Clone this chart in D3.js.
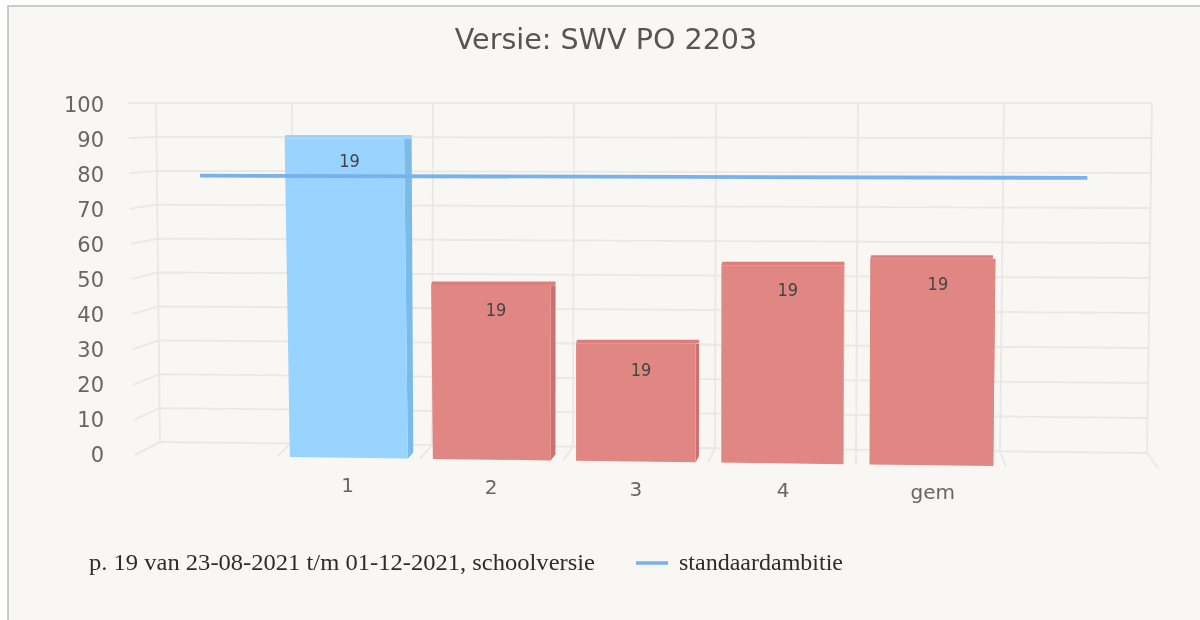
<!DOCTYPE html>
<html>
<head>
<meta charset="utf-8">
<script src="https://cdn.jsdelivr.net/npm/d3@7"></script>
<style>
  html, body { margin: 0; padding: 0; background: #fff; overflow: hidden; }
  svg { display: block; filter: blur(0.45px); }
</style>
</head>
<body>
<div id="container"></div>
<script>
/* DATA */
const categories = ["1", "2", "3", "4", "gem"];
const barValues = [90, 49, 33, 55, 57];
const barCounts = [19, 19, 19, 19, 19];
const barColors = ["#99d3ff", "#e08683", "#e08683", "#e08683", "#e08683"];
const topColors = ["#99d3ff", "#dc7e7b", "#dc7e7b", "#dc7e7b", "#dc7e7b"];
const sideColors = ["#7bbbea", "#cd706e", "#cd706e", "#e08683", "#e08683"];
const yTicks = [0, 10, 20, 30, 40, 50, 60, 70, 80, 90, 100];
const lineValues = [79, 79];
const lineSlots = [0.41, 6.54]; // where the line starts and ends, in category slots
const titleText = "Versie: SWV PO 2203";
const legendBars = "p. 19 van 23-08-2021 t/m 01-12-2021, schoolversie";
const legendLine = "standaardambitie";

/* CONSTANTS */
const width = 1200, height = 620;
const slots = d3.range(8); // one empty slot each side of the five categories
const topY = 103;

const svg = d3.select("#container").append("svg")
  .attr("width", width)
  .attr("height", height);

/* SCALES - the floor and the top of the box, back (z=0) and front (z=1) */
const backBottomX = d3.scaleLinear().domain(slots).range([160, 290, 432, 573, 715, 856, 1000, 1147]);
const backTopX = d3.scaleLinear().domain(slots).range([156, 292, 433, 574, 716, 858, 1004, 1152]);
const frontBottomX = d3.scaleLinear().domain(slots).range([135, 277, 420, 563, 708, 856, 1006, 1158]);
const frontTopX = d3.scaleLinear().domain(slots).range([128, 271, 416, 563, 708, 857, 1010, 1163]);
const backBottomY = d3.scaleLinear().domain([0, 7]).range([442, 453]);
const frontBottomY = d3.scaleLinear().domain([0, 7]).range([455, 468]);
const valueScale = d3.scaleLinear().domain([0, 100]).range([0, 1]);

// slot along the x axis, v the value, z the depth
function project(slot, v, z) {
  const t = valueScale(v);
  const bottomX = d3.interpolate(backBottomX(slot), frontBottomX(slot))(z);
  const upperX = d3.interpolate(backTopX(slot), frontTopX(slot))(z);
  const bottomY = d3.interpolate(backBottomY(slot), frontBottomY(slot))(z);
  return [bottomX + (upperX - bottomX) * t, bottomY + (topY - bottomY) * t];
}

/* BACKGROUND */
svg.append("rect").attr("x", 8).attr("y", 6)
  .attr("width", width).attr("height", height)
  .attr("fill", "#f8f7f3").attr("stroke", "#bdbcb8").attr("stroke-width", 1.5);

/* TITLE */
svg.append("text")
  .attr("x", 606).attr("y", 49)
  .attr("text-anchor", "middle")
  .attr("font-family", "DejaVu Sans")
  .attr("font-size", 28.6)
  .attr("fill", "#555")
  .text(titleText);

/* GRID */
const gridColor = "#e8e8e6";
const grid = svg.append("g").attr("fill", "none").attr("stroke", gridColor).attr("stroke-width", 1.8);
const pathLine = d3.line();

// horizontal lines on the side wall and the back wall
yTicks.forEach(v => {
  grid.append("path").attr("d", pathLine([project(0, v, 1), project(0, v, 0), project(7, v, 0)]));
});
// vertical lines on the back wall, then the floor lines
slots.forEach(s => {
  grid.append("path").attr("d", pathLine([project(s, 0, 0), project(s, 100, 0)]));
  grid.append("path").attr("d", pathLine([project(s, 0, 0), project(s, 0, 1)]));
});

/* Y AXIS */
const yLabelScale = d3.scaleLinear().domain([0, 100]).range([455, 105]);
const yAxis = svg.append("g")
  .attr("transform", "translate(104,0)")
  .call(d3.axisLeft(yLabelScale).tickValues(yTicks).tickSize(0).tickPadding(0));
yAxis.select(".domain").remove();
yAxis.selectAll("text")
  .attr("font-family", "DejaVu Sans")
  .attr("font-size", 21)
  .attr("fill", "#666");

/* BARS */
const barInset = [0.09, 0.915];
const zFront = 1, zBack = 0.55, topRise = 3.5;
const bars = svg.selectAll("g.bar")
  .data(categories)
  .join("g")
  .attr("class", "bar");

// side face sits behind the front face
bars.append("path")
  .attr("fill", (d, i) => sideColors[i])
  .attr("d", (d, i) => {
    const s = i + 1 + barInset[1];
    const v = barValues[i];
    const front = project(s, v, zFront);
    const back = project(s, v, zBack);
    return pathLine([project(s, 0, zFront), project(s, 0, zBack), [back[0], front[1]], front]) + "Z";
  });
// top face, kept level
bars.append("path")
  .attr("fill", (d, i) => topColors[i])
  .attr("d", (d, i) => {
    const v = barValues[i];
    const a = project(i + 1 + barInset[0], v, zFront);
    const b = project(i + 1 + barInset[1], v, zFront);
    const c = project(i + 1 + barInset[1], v, zBack);
    const y = (a[1] + b[1]) / 2;
    return pathLine([[a[0], y], [a[0] + 1, y - topRise], [c[0], y - topRise], [c[0], y], [b[0], y]]) + "Z";
  });
// front face
bars.append("path")
  .attr("fill", (d, i) => barColors[i])
  .attr("d", (d, i) => {
    const v = barValues[i];
    const a = project(i + 1 + barInset[0], v, zFront);
    const b = project(i + 1 + barInset[1], v, zFront);
    const y = (a[1] + b[1]) / 2;
    return pathLine([
      project(i + 1 + barInset[0], 0, zFront),
      [a[0], y],
      [b[0], y],
      project(i + 1 + barInset[1], 0, zFront)
    ]) + "Z";
  });

/* LINE */
svg.append("path")
  .attr("fill", "none")
  .attr("stroke", "#78b2ee")
  .attr("stroke-width", 3.8)
  .attr("d", pathLine(lineSlots.map((s, i) => project(s, lineValues[i], 0.5))));

/* BAR LABELS */
svg.selectAll("text.count")
  .data(barCounts)
  .join("text")
  .attr("class", "count")
  .attr("x", (d, i) => project(i + 1.5, barValues[i], zFront)[0] + 5.5)
  .attr("y", (d, i) => project(i + 1.5, barValues[i], zFront)[1] + 28 + (100 - barValues[i]) * 0.07)
  .attr("text-anchor", "middle")
  .attr("font-family", "DejaVu Sans Condensed, DejaVu Sans")
  .attr("font-stretch", "condensed")
  .attr("font-size", 18)
  .attr("fill", "#444")
  .text(d => d);

/* CATEGORY LABELS */
svg.selectAll("text.cat")
  .data(categories)
  .join("text")
  .attr("class", "cat")
  .attr("x", (d, i) => project(i + 1.5, 0, zFront)[0] - 1 + i * 0.7)
  .attr("y", (d, i) => project(i + 1.5, 0, zFront)[1] + 34)
  .attr("text-anchor", "middle")
  .attr("font-family", "DejaVu Sans")
  .attr("font-size", 20)
  .attr("fill", "#666")
  .text(d => d);

/* LEGEND */
const legendFont = "Liberation Serif";
svg.append("text")
  .attr("x", 89).attr("y", 570)
  .attr("font-family", legendFont).attr("font-size", 22.5).attr("fill", "#2c2c2c")
  .attr("textLength", 506).attr("lengthAdjust", "spacingAndGlyphs")
  .text(legendBars);
svg.append("line")
  .attr("x1", 636).attr("x2", 668).attr("y1", 563).attr("y2", 563)
  .attr("stroke", "#78b2ee").attr("stroke-width", 3.5);
svg.append("text")
  .attr("x", 679).attr("y", 570)
  .attr("font-family", legendFont).attr("font-size", 22.5).attr("fill", "#2c2c2c")
  .attr("textLength", 164).attr("lengthAdjust", "spacingAndGlyphs")
  .text(legendLine);
</script>
</body>
</html>
